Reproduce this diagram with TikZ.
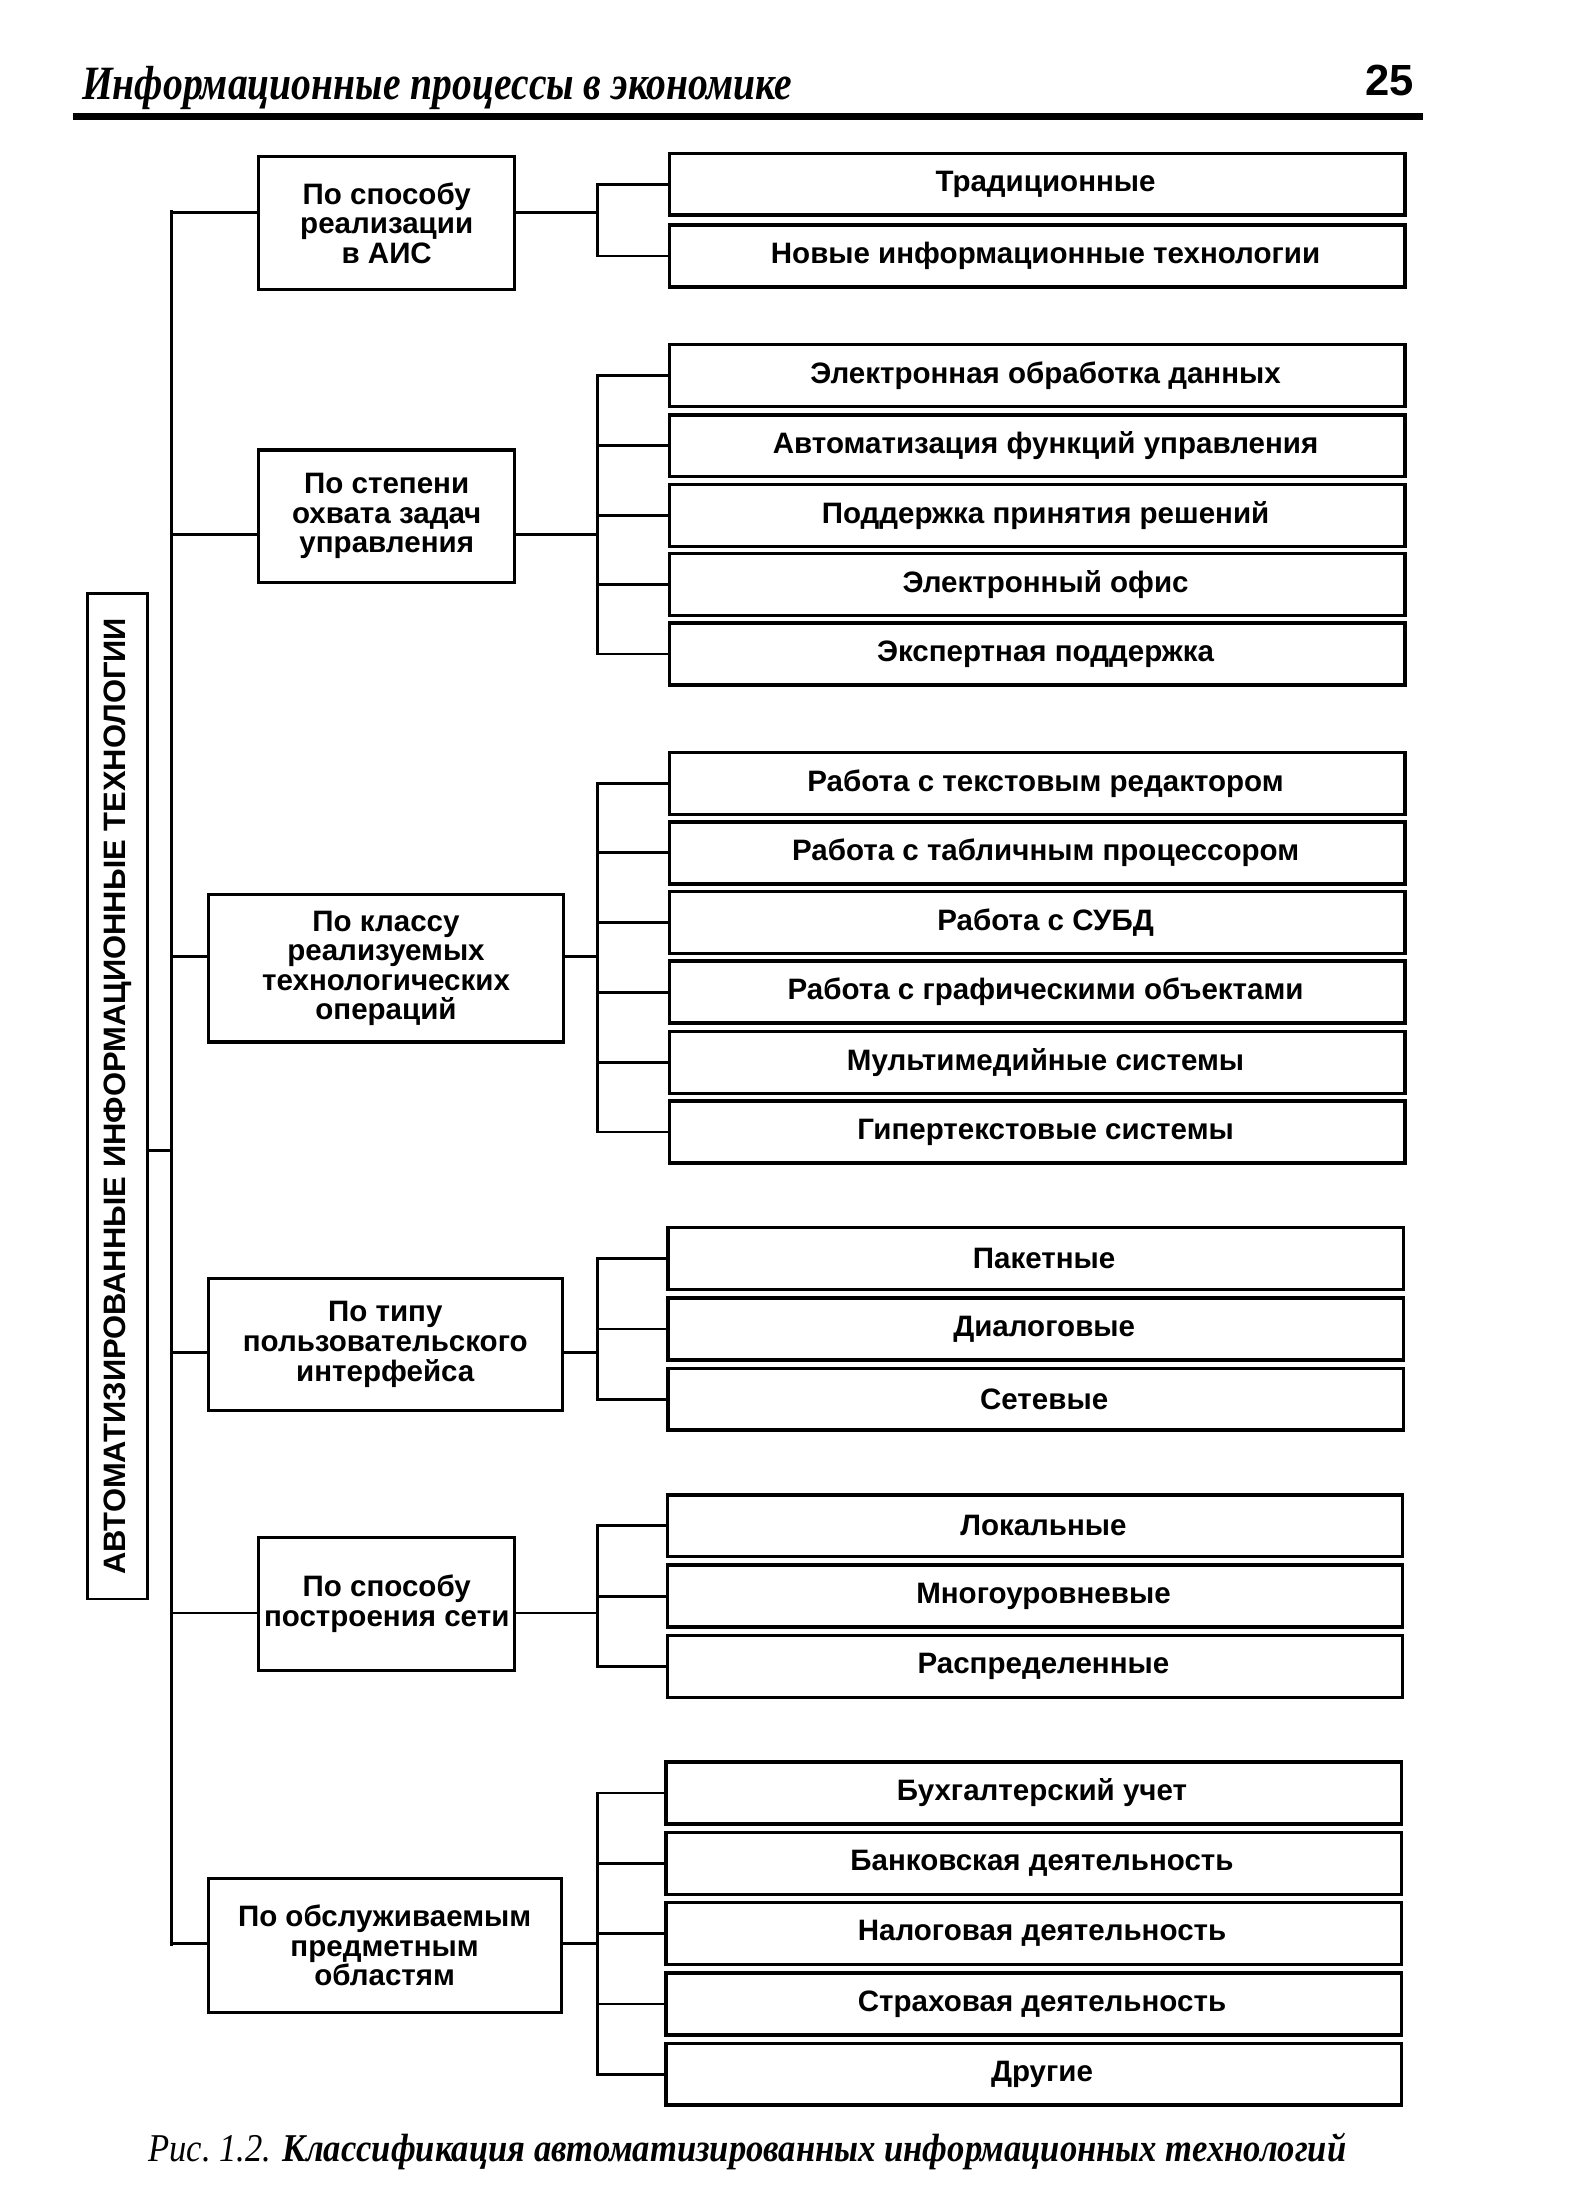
\documentclass[tikz,border=0pt]{standalone}
\usepackage{fontspec}
\setmainfont{Liberation Serif}
\newfontfamily\lsans{Liberation Sans}
\usetikzlibrary{calc}
\tikzset{
  boxtext/.style={font=\lsans\bfseries\fontsize{10.5}{10.5}\selectfont},
  item/.style={draw, line width=1.2pt, minimum width=261.5pt, minimum height=22pt, inner sep=0pt, boxtext,
    execute at begin node={\hspace*{6pt}}},
  cat/.style={draw, line width=1.1pt, inner sep=0pt, align=center, boxtext},
  conn/.style={line width=1pt, line cap=rect},
}
\begin{document}
\begin{tikzpicture}[x=0.5pt,y=-0.5pt]
\useasboundingbox (0,0) rectangle (1126,1568);
% header
\node[anchor=base west, inner sep=0pt, font=\fontsize{17}{19}\selectfont\bfseries\itshape] (hdr) at (58,71)
  {\resizebox{252.5pt}{\height}{Информационные процессы в экономике}};
\node[anchor=base east, inner sep=0pt, font=\lsans\bfseries\fontsize{15.5}{16}\selectfont] (pg) at (1006,68) {25};
\coordinate (ruleL) at (52,83);
\coordinate (ruleR) at (1012,83);
\draw[line width=2.4pt] (ruleL) -- (ruleR);

% vertical label
\node[draw, line width=1pt, rotate=90, minimum width=357.5pt, minimum height=21.5pt, inner sep=0pt,
  font=\lsans\bfseries\fontsize{11}{12}\selectfont] (lab) at (83.5,779.5)
  {АВТОМАТИЗИРОВАННЫЕ ИНФОРМАЦИОННЫЕ ТЕХНОЛОГИИ};

% category boxes
\node[cat, minimum width=91pt, minimum height=47.5pt] (c1) at (275,158.5) {По способу\\реализации\\в АИС};
\node[cat, minimum width=91pt, minimum height=47pt] (c2) at (275,367) {По степени\\охвата задач\\управления};
\node[cat, minimum width=126.5pt, minimum height=52.5pt] (c3) at (274.5,688.5) {По классу\\реализуемых\\технологических\\операций};
\node[cat, minimum width=126pt, minimum height=47pt] (c4) at (274,956) {По типу\\пользовательского\\интерфейса};
\node[cat, minimum width=91pt, minimum height=47.5pt] (c5) at (275,1140.5) {По способу\\построения сети};
\node[cat, minimum width=125.5pt, minimum height=47.5pt] (c6) at (273.5,1383.5) {По обслуживаемым\\предметным\\областям};

% items
\node[item] (i11) at (737.5,131) {Традиционные};
\node[item] (i12) at (737.5,182) {Новые информационные технологии};

\node[item] (i21) at (737.5,267) {Электронная обработка данных};
\node[item] (i22) at (737.5,317) {Автоматизация функций управления};
\node[item] (i23) at (737.5,366.5) {Поддержка принятия решений};
\node[item] (i24) at (737.5,415.5) {Электронный офис};
\node[item] (i25) at (737.5,465) {Экспертная поддержка};

\node[item] (i31) at (737.5,557) {Работа с текстовым редактором};
\node[item] (i32) at (737.5,606.5) {Работа с табличным процессором};
\node[item] (i33) at (737.5,656) {Работа с СУБД};
\node[item] (i34) at (737.5,705.5) {Работа с графическими объектами};
\node[item] (i35) at (737.5,755.5) {Мультимедийные системы};
\node[item] (i36) at (737.5,805) {Гипертекстовые системы};

\node[item] (i41) at (736.5,895) {Пакетные};
\node[item] (i42) at (736.5,945) {Диалоговые};
\node[item] (i43) at (736.5,995) {Сетевые};

\node[item] (i51) at (736,1085) {Локальные};
\node[item] (i52) at (736,1135) {Многоуровневые};
\node[item] (i53) at (736,1185) {Распределенные};

\node[item] (i61) at (735,1275) {Бухгалтерский учет};
\node[item] (i62) at (735,1325) {Банковская деятельность};
\node[item] (i63) at (735,1375) {Налоговая деятельность};
\node[item] (i64) at (735,1425) {Страховая деятельность};
\node[item] (i65) at (735,1475) {Другие};

% trunk
\coordinate (tTop) at (122,150);
\coordinate (tBot) at (122,1383);
\coordinate (yLab) at (0,818);
\draw[conn] (tTop) -- (tBot);
\draw[conn] (lab.south |- yLab) -- (tTop |- yLab);

% bracket points
\coordinate (k1) at (425,151);
\coordinate (k2) at (425,380);
\coordinate (k3) at (425,680);
\coordinate (k4) at (425,962);
\coordinate (k5) at (425,1147);
\coordinate (k6) at (425,1382);

\foreach \g in {1,...,6}{
  \draw[conn] (tTop |- k\g) -- (c\g.west |- k\g);
  \draw[conn] (c\g.east |- k\g) -- (k\g);
}

% group brackets
\draw[conn] (i11.west -| k1) -- (i12.west -| k1);
\foreach \n in {11,12} \draw[conn] (i\n.west) -- (i\n.west -| k1);
\draw[conn] (i21.west -| k2) -- (i25.west -| k2);
\foreach \n in {21,...,25} \draw[conn] (i\n.west) -- (i\n.west -| k2);
\draw[conn] (i31.west -| k3) -- (i36.west -| k3);
\foreach \n in {31,...,36} \draw[conn] (i\n.west) -- (i\n.west -| k3);
\draw[conn] (i41.west -| k4) -- (i43.west -| k4);
\foreach \n in {41,42,43} \draw[conn] (i\n.west) -- (i\n.west -| k4);
\draw[conn] (i51.west -| k5) -- (i53.west -| k5);
\foreach \n in {51,52,53} \draw[conn] (i\n.west) -- (i\n.west -| k5);
\draw[conn] (i61.west -| k6) -- (i65.west -| k6);
\foreach \n in {61,...,65} \draw[conn] (i\n.west) -- (i\n.west -| k6);

% caption
\node[anchor=base west, inner sep=0pt] (cap) at (105,1537)
  {\resizebox{426pt}{\height}{\fontsize{14}{16}\selectfont\itshape Рис.~1.2. {\bfseries Классификация автоматизированных информационных технологий}}};
\end{tikzpicture}
\end{document}
